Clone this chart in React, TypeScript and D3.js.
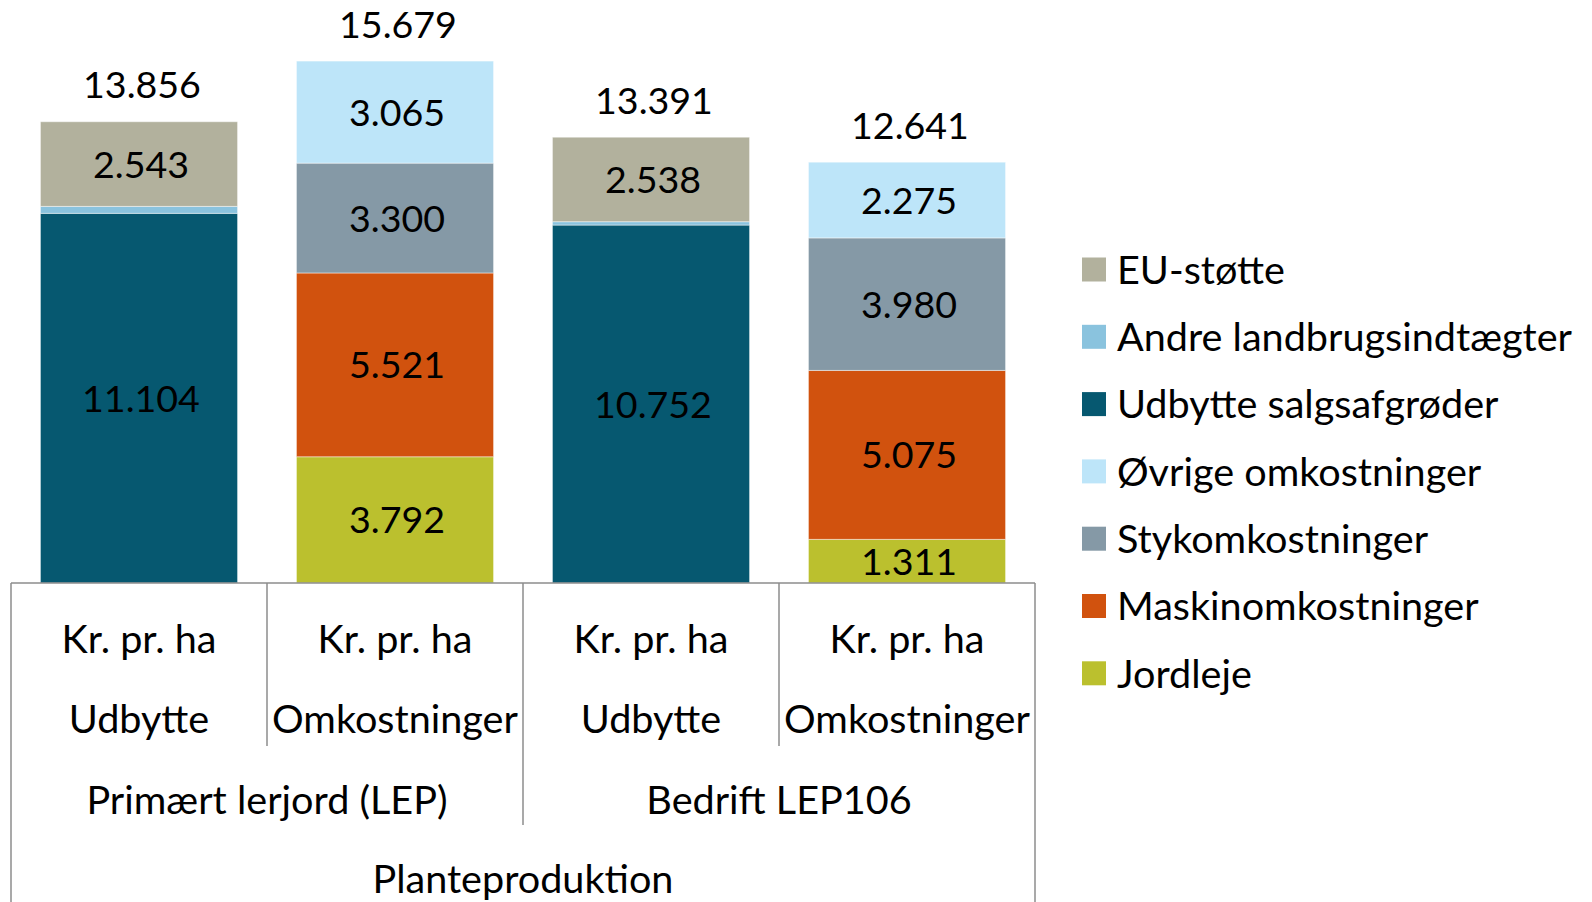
import React from 'react';
import * as d3 from 'd3';

const categories = ['LEP-Udbytte', 'LEP-Omk', 'LEP106-Udbytte', 'LEP106-Omk'];
const level1Top = ['Kr. pr. ha', 'Kr. pr. ha', 'Kr. pr. ha', 'Kr. pr. ha'];
const level1Bottom = ['Udbytte', 'Omkostninger', 'Udbytte', 'Omkostninger'];
const level2 = ['Primært lerjord (LEP)', 'Bedrift LEP106'];
const level3 = 'Planteproduktion';

// series in stacking order (bottom first)
const seriesNames = [
  'Jordleje',
  'Maskinomkostninger',
  'Stykomkostninger',
  'Øvrige omkostninger',
  'Udbytte salgsafgrøder',
  'Andre landbrugsindtægter',
  'EU-støtte',
];
const jordleje = [0, 3792, 0, 1311];
const maskin = [0, 5521, 0, 5075];
const styk = [0, 3300, 0, 3980];
const ovrige = [0, 3065, 0, 2275];
const udbytte = [11104, 0, 10752, 0];
const andre = [209, 0, 101, 0];
const eu = [2543, 0, 2538, 0];
const totals = [13856, 15679, 13391, 12641];

const colors = ['#BBC02E', '#D1520E', '#8599A6', '#BDE5F9', '#065870', '#8AC3DE', '#B2B19D'];
const legendOrder = [6, 5, 4, 3, 2, 1, 0];
const hiddenLabels = ['Andre landbrugsindtægter'];

const W = 1592;
const H = 902;
const font = 'Lato, "Open Sans", sans-serif';
const fsNum = 37.6;
const fsTxt = 39.6;
const axisColor = '#8c8c8c';

const loc = d3.formatLocale({ decimal: ',', thousands: '.', grouping: [3], currency: ['', ' kr'] });
const fmt = loc.format(',d');

export default function App() {
  const allSeries = [jordleje, maskin, styk, ovrige, udbytte, andre, eu];
  const rows = categories.map((c, i) => {
    const r: any = { cat: c };
    seriesNames.forEach((s, j) => (r[s] = allSeries[j][i]));
    return r;
  });
  const stacked = d3.stack().keys(seriesNames)(rows);

  const x = d3.scaleBand().domain(categories).range([11, 1035]).paddingInner(0.23).paddingOuter(0.115);
  const step = x.step();
  const y = d3.scaleLinear().domain([0, 16000]).range([583, 583 - 16000 * 0.03329]);

  const x0 = 11;
  const x1 = 1035;
  const base = y(0);

  return (
    <svg width={W} height={H} style={{ position: 'absolute', left: 0, top: 0, background: '#fff' }} fontFamily={font}>
      {stacked.map((layer, li) => (
        <g key={layer.key} fill={colors[li]}>
          {layer.map((d, i) =>
            d[1] - d[0] > 0 ? (
              <rect
                key={i}
                x={x(categories[i])}
                y={y(d[1])}
                width={x.bandwidth()}
                height={y(d[0]) - y(d[1])}
                stroke="#ffffff"
                strokeOpacity={0.45}
                strokeWidth={1}
              />
            ) : null
          )}
        </g>
      ))}
      {stacked.map((layer) =>
        hiddenLabels.includes(layer.key)
          ? null
          : layer.map((d, i) =>
              d[1] - d[0] > 0 ? (
                <text
                  key={layer.key + i}
                  x={(x(categories[i]) as number) + x.bandwidth() / 2 + 2}
                  y={(y(d[0]) + y(d[1])) / 2 + fsNum * 0.36}
                  textAnchor="middle"
                  fontSize={fsNum}
                  fill="#000"
                >
                  {fmt(d[1] - d[0])}
                </text>
              ) : null
            )
      )}
      {totals.map((t, i) => (
        <text
          key={'t' + i}
          x={(x(categories[i]) as number) + x.bandwidth() / 2 + 3}
          y={y(t) - 23.5}
          textAnchor="middle"
          fontSize={fsNum}
          fill="#000"
        >
          {fmt(t)}
        </text>
      ))}

      {/* multi-level category axis */}
      <g stroke={axisColor} strokeWidth={1.5}>
        <line x1={x0} x2={x1} y1={base} y2={base} />
        <line x1={x0} x2={x0} y1={base} y2={H} />
        <line x1={x1} x2={x1} y1={base} y2={H} />
        {[1, 3].map((k) => (
          <line key={k} x1={x0 + step * k} x2={x0 + step * k} y1={base} y2={746} />
        ))}
        <line x1={x0 + step * 2} x2={x0 + step * 2} y1={base} y2={825} />
      </g>
      {categories.map((c, i) => (
        <g key={'c' + i} fontSize={fsTxt} textAnchor="middle" fill="#000">
          <text x={x0 + step * (i + 0.5)} y={653}>{level1Top[i]}</text>
          <text x={x0 + step * (i + 0.5)} y={733}>{level1Bottom[i]}</text>
        </g>
      ))}
      {level2.map((l, i) => (
        <text key={l} x={x0 + step * (2 * i + 1)} y={814} fontSize={fsTxt} textAnchor="middle" fill="#000">
          {l}
        </text>
      ))}
      <text x={x0 + step * 2} y={893} fontSize={fsTxt} textAnchor="middle" fill="#000">
        {level3}
      </text>

      {/* legend */}
      {legendOrder.map((si, k) => (
        <g key={seriesNames[si]} transform={`translate(1082, ${269.5 + k * 67.3})`}>
          <rect x={0} y={-12} width={24} height={24} fill={colors[si]} />
          <text x={35} y={fsTxt * 0.36} fontSize={fsTxt} fill="#000">
            {seriesNames[si]}
          </text>
        </g>
      ))}
    </svg>
  );
}
